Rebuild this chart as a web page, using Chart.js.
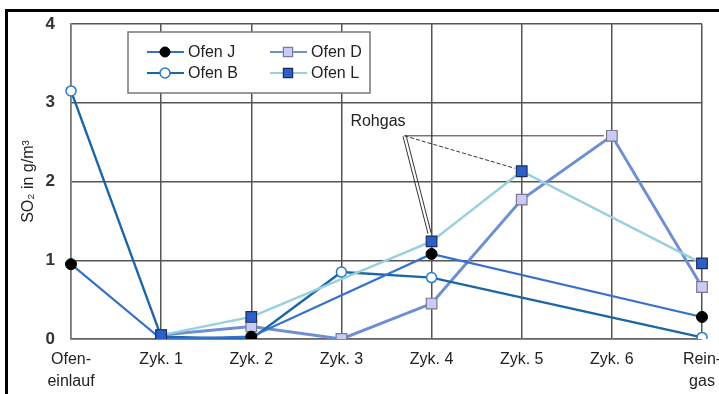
<!DOCTYPE html>
<html>
<head>
<meta charset="utf-8">
<script src="https://cdn.jsdelivr.net/npm/chart.js@4"></script>
<style>
  html, body { margin: 0; padding: 0; background: #fff; }
  canvas { display: block; }
</style>
</head>
<body>
<canvas id="c" width="719" height="394"></canvas>
<script>
// SO2-Konzentration entlang der Zyklonstufen
const categories = [["Ofen-", "einlauf"], "Zyk. 1", "Zyk. 2", "Zyk. 3", "Zyk. 4", "Zyk. 5", "Zyk. 6", ["Rein-", "gas"]];
const ofenJ = [0.95, 0.0, 0.03, null, 1.08, null, null, 0.28];
const ofenB = [3.15, 0.03, 0.0, 0.85, 0.78, null, null, 0.02];
const ofenD = [null, 0.05, 0.16, 0.0, 0.45, 1.77, 2.58, 0.66];
const ofenL = [null, 0.05, 0.28, null, 1.24, 2.13, null, 0.96];
const yTicks = [0, 1, 2, 3, 4];

const FONT = "'Liberation Sans', Arial, sans-serif";
const FSIZE = 16;
const TEXT = '#222';

const series = {
  J: { label: 'Ofen J', data: ofenJ, borderColor: '#3470cc', borderWidth: 2.2,
       pointStyle: 'circle', pointRadius: 5.5, pointBackgroundColor: '#000', pointBorderColor: '#000', pointBorderWidth: 1 },
  B: { label: 'Ofen B', data: ofenB, borderColor: '#1c66a4', borderWidth: 2.4,
       pointStyle: 'circle', pointRadius: 5, pointBackgroundColor: '#fff', pointBorderColor: '#2a78c8', pointBorderWidth: 1.5 },
  D: { label: 'Ofen D', data: ofenD, borderColor: '#6e8fd4', borderWidth: 3,
       pointStyle: 'rect', pointRadius: 7.5, pointBackgroundColor: '#cacaf6', pointBorderColor: '#7a7a8a', pointBorderWidth: 1.2 },
  L: { label: 'Ofen L', data: ofenL, borderColor: '#98d0dc', borderWidth: 2.4,
       pointStyle: 'rect', pointRadius: 7.5, pointBackgroundColor: '#2a60c8', pointBorderColor: '#1c2c60', pointBorderWidth: 1.2 }
};
const legendOrder = ['J', 'B', 'D', 'L'];

// outer frame lines (top and left)
const framePlugin = {
  id: 'frame',
  afterDraw(chart) {
    const ctx = chart.ctx;
    ctx.save();
    ctx.strokeStyle = '#000';
    ctx.lineWidth = 3;
    ctx.beginPath();
    ctx.moveTo(6.5, chart.height);
    ctx.lineTo(6.5, 10.5);
    ctx.lineTo(chart.width, 10.5);
    ctx.stroke();
    ctx.restore();
  }
};

// "Rohgas" callout pointing to the two Ofen L points
const rohgasPlugin = {
  id: 'rohgas',
  afterDatasetsDraw(chart) {
    const ctx = chart.ctx;
    const xs = chart.scales.x, ys = chart.scales.y;
    const ax = xs.getPixelForValue(3) + 0.7 * (xs.getPixelForValue(4) - xs.getPixelForValue(3));
    const ay = ys.getPixelForValue(ofenD[6]);
    const p4 = { x: xs.getPixelForValue(4), y: ys.getPixelForValue(ofenL[4]) };
    const p5 = { x: xs.getPixelForValue(5), y: ys.getPixelForValue(ofenL[5]) };
    const p6x = xs.getPixelForValue(6);
    ctx.save();
    ctx.strokeStyle = '#333';
    ctx.lineWidth = 1;
    // horizontal guide
    ctx.beginPath();
    ctx.moveTo(ax, ay);
    ctx.lineTo(p6x - 8, ay);
    ctx.stroke();
    // dashed leader to Zyk. 5
    ctx.setLineDash([4, 2]);
    ctx.beginPath();
    ctx.moveTo(ax, ay);
    ctx.lineTo(p5.x - 7, p5.y - 3);
    ctx.stroke();
    ctx.setLineDash([]);
    // double leader to Zyk. 4
    const tx = p4.x - 2, ty = p4.y - 8;
    const dx = tx - ax, dy = ty - ay, len = Math.hypot(dx, dy);
    const nx = -dy / len * 1.6, ny = dx / len * 1.6;
    ctx.beginPath();
    ctx.moveTo(ax + nx, ay + ny); ctx.lineTo(tx + nx, ty + ny);
    ctx.moveTo(ax - nx, ay - ny); ctx.lineTo(tx - nx, ty - ny);
    ctx.stroke();
    // label
    ctx.fillStyle = TEXT;
    ctx.font = FSIZE + 'px ' + FONT;
    ctx.textAlign = 'right';
    ctx.textBaseline = 'alphabetic';
    ctx.fillText('Rohgas', ax + 1, ay - 10);
    ctx.restore();
  }
};

// boxed two-column legend inside the plot
const boxLegendPlugin = {
  id: 'boxLegend',
  afterDatasetsDraw(chart) {
    const ctx = chart.ctx;
    const ca = chart.chartArea;
    const bx = ca.left + 57, by = ca.top + 8, bw = 242, bh = 61;
    ctx.save();
    ctx.fillStyle = '#fff';
    ctx.fillRect(bx, by, bw, bh);
    ctx.strokeStyle = '#777';
    ctx.lineWidth = 1.5;
    ctx.strokeRect(bx, by, bw, bh);
    ctx.font = FSIZE + 'px ' + FONT;
    ctx.textBaseline = 'middle';
    ctx.textAlign = 'left';
    legendOrder.forEach((key, i) => {
      const s = series[key];
      const col = Math.floor(i / 2), row = i % 2;
      const x0 = bx + 19 + col * 123;
      const y0 = by + 20 + row * 21;
      ctx.strokeStyle = s.borderColor;
      ctx.lineWidth = 2.2;
      ctx.beginPath();
      ctx.moveTo(x0, y0);
      ctx.lineTo(x0 + 37, y0);
      ctx.stroke();
      ctx.fillStyle = s.pointBackgroundColor;
      ctx.strokeStyle = s.pointBorderColor;
      ctx.lineWidth = s.pointBorderWidth;
      Chart.helpers.drawPoint(ctx, { pointStyle: s.pointStyle, radius: s.pointStyle === 'rect' ? 6.5 : 5, rotation: 0, borderWidth: s.pointBorderWidth }, x0 + 18, y0);
      ctx.fillStyle = TEXT;
      ctx.fillText(s.label, x0 + 41, y0 + 1);
    });
    ctx.restore();
  }
};

const drawOrder = ['L', 'J', 'B', 'D'];
const datasets = drawOrder.map(k => Object.assign({ spanGaps: true, fill: false, tension: 0 }, series[k]));

new Chart(document.getElementById('c'), {
  type: 'line',
  data: { labels: categories, datasets },
  options: {
    responsive: false,
    animation: false,
    devicePixelRatio: 1,
    layout: { padding: { left: 0, top: 24, right: 17, bottom: 0 } },
    plugins: { legend: { display: false }, tooltip: { enabled: false } },
    scales: {
      x: {
        type: 'category',
        offset: false,
        grid: { color: '#555', lineWidth: 1.5, drawTicks: false },
        border: { color: '#666', width: 1.5 },
        ticks: { color: TEXT, font: { family: FONT, size: FSIZE, lineHeight: 1.4 }, padding: 9, maxRotation: 0, autoSkip: false },
        afterFit(s) { s.paddingLeft = 0; s.paddingRight = 0; s.height = 55; }
      },
      y: {
        min: 0, max: 4,
        afterBuildTicks(s) { s.ticks = yTicks.map(v => ({ value: v })); },
        grid: { color: '#555', lineWidth: 1.5, drawTicks: false },
        border: { color: '#777', width: 1.5 },
        ticks: { color: '#333', font: { family: FONT, size: FSIZE + 1, weight: 'bold' }, padding: 16 },
        title: { display: true, text: 'SO\u2082 in g/m\u00B3', color: TEXT, font: { family: FONT, size: FSIZE }, padding: { top: 19, bottom: 0 } },
        afterFit(s) { s.width = 71; s.paddingTop = 0; s.paddingBottom = 0; }
      }
    }
  },
  plugins: [boxLegendPlugin, rohgasPlugin, framePlugin]
});
</script>
</body>
</html>
